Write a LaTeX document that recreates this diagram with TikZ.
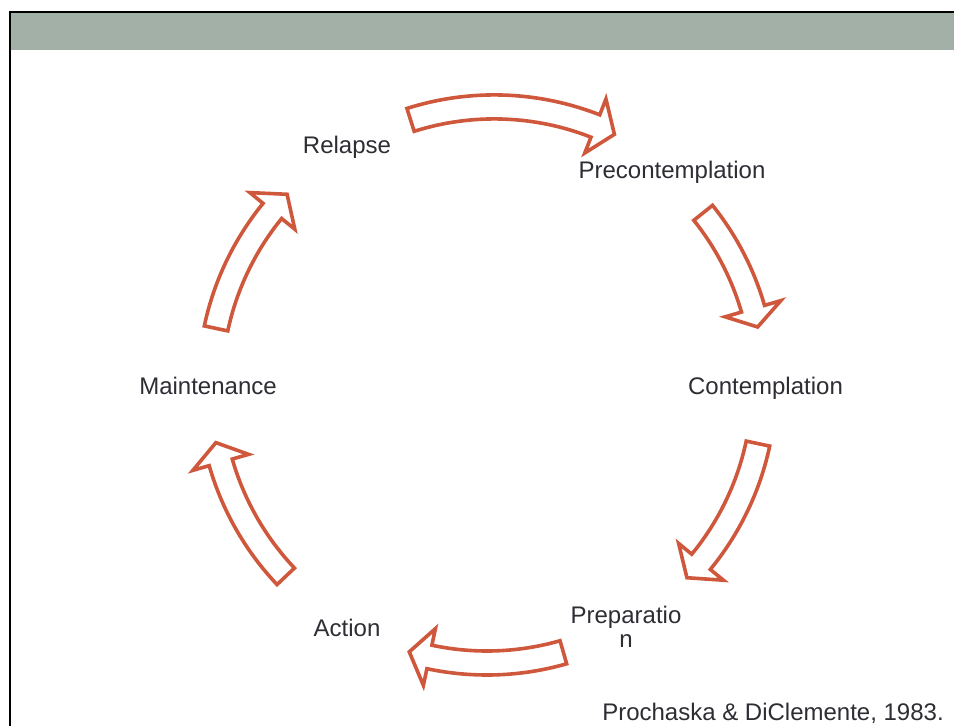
\documentclass[tikz,border=0pt]{standalone}
\usepackage{fontspec}
\setmainfont{Liberation Sans}
\definecolor{band}{RGB}{163,176,168}
\definecolor{arrowc}{RGB}{207,88,60}
\definecolor{txt}{RGB}{45,45,52}
\newcommand\cycarrow[4][487,-386]{%
  \draw[arr,shift={(#1)}] (#2:289) arc[start angle=#2,end angle=#3,radius=289]
    -- (#3:306) -- (#4:277) -- (#3:248) -- (#3:265)
    arc[start angle=#3,end angle=#2,radius=265] -- cycle;}
\begin{document}
\begin{tikzpicture}[x=1pt,y=1pt,
  arr/.style={draw=arrowc, line width=3.6pt, fill=white, line join=miter},
  lbl/.style={text=txt, font=\fontsize{24}{24}\selectfont, anchor=base, inner sep=0pt}]
\useasboundingbox (0,0) rectangle (954,-726);
\fill[band] (11,-13) rectangle (954,-50);
\draw[line width=2.3pt] (10,-726) -- (10,-12) -- (954,-12);
% arrows
\cycarrow[494.3,-383.9]{107.6}{68.6}{64.3}
\cycarrow{38.7}{16.2}{12.3}
\cycarrow{-12}{-39.4}{-43.8}
\cycarrow{-74}{-102}{-106.3}
\cycarrow{-136.6}{-164}{-168.2}
\cycarrow{168}{140.8}{136.2}
% labels
\node[lbl] (relapse) at (347,-153) {Relapse};
\node[lbl] (precon) at (672,-178) {Precontemplation};
\node[lbl] (contem) at (765.5,-394) {Contemplation};
\node[lbl] (prepa) at (626,-623) {Preparatio};
\node[lbl] (prepb) at (626,-647) {n};
\node[lbl] (action) at (347,-636) {Action};
\node[lbl] (maint) at (208,-394) {Maintenance};
\node[lbl] (cite) at (773,-720) {Prochaska \& DiClemente, 1983.};
\end{tikzpicture}
\end{document}
